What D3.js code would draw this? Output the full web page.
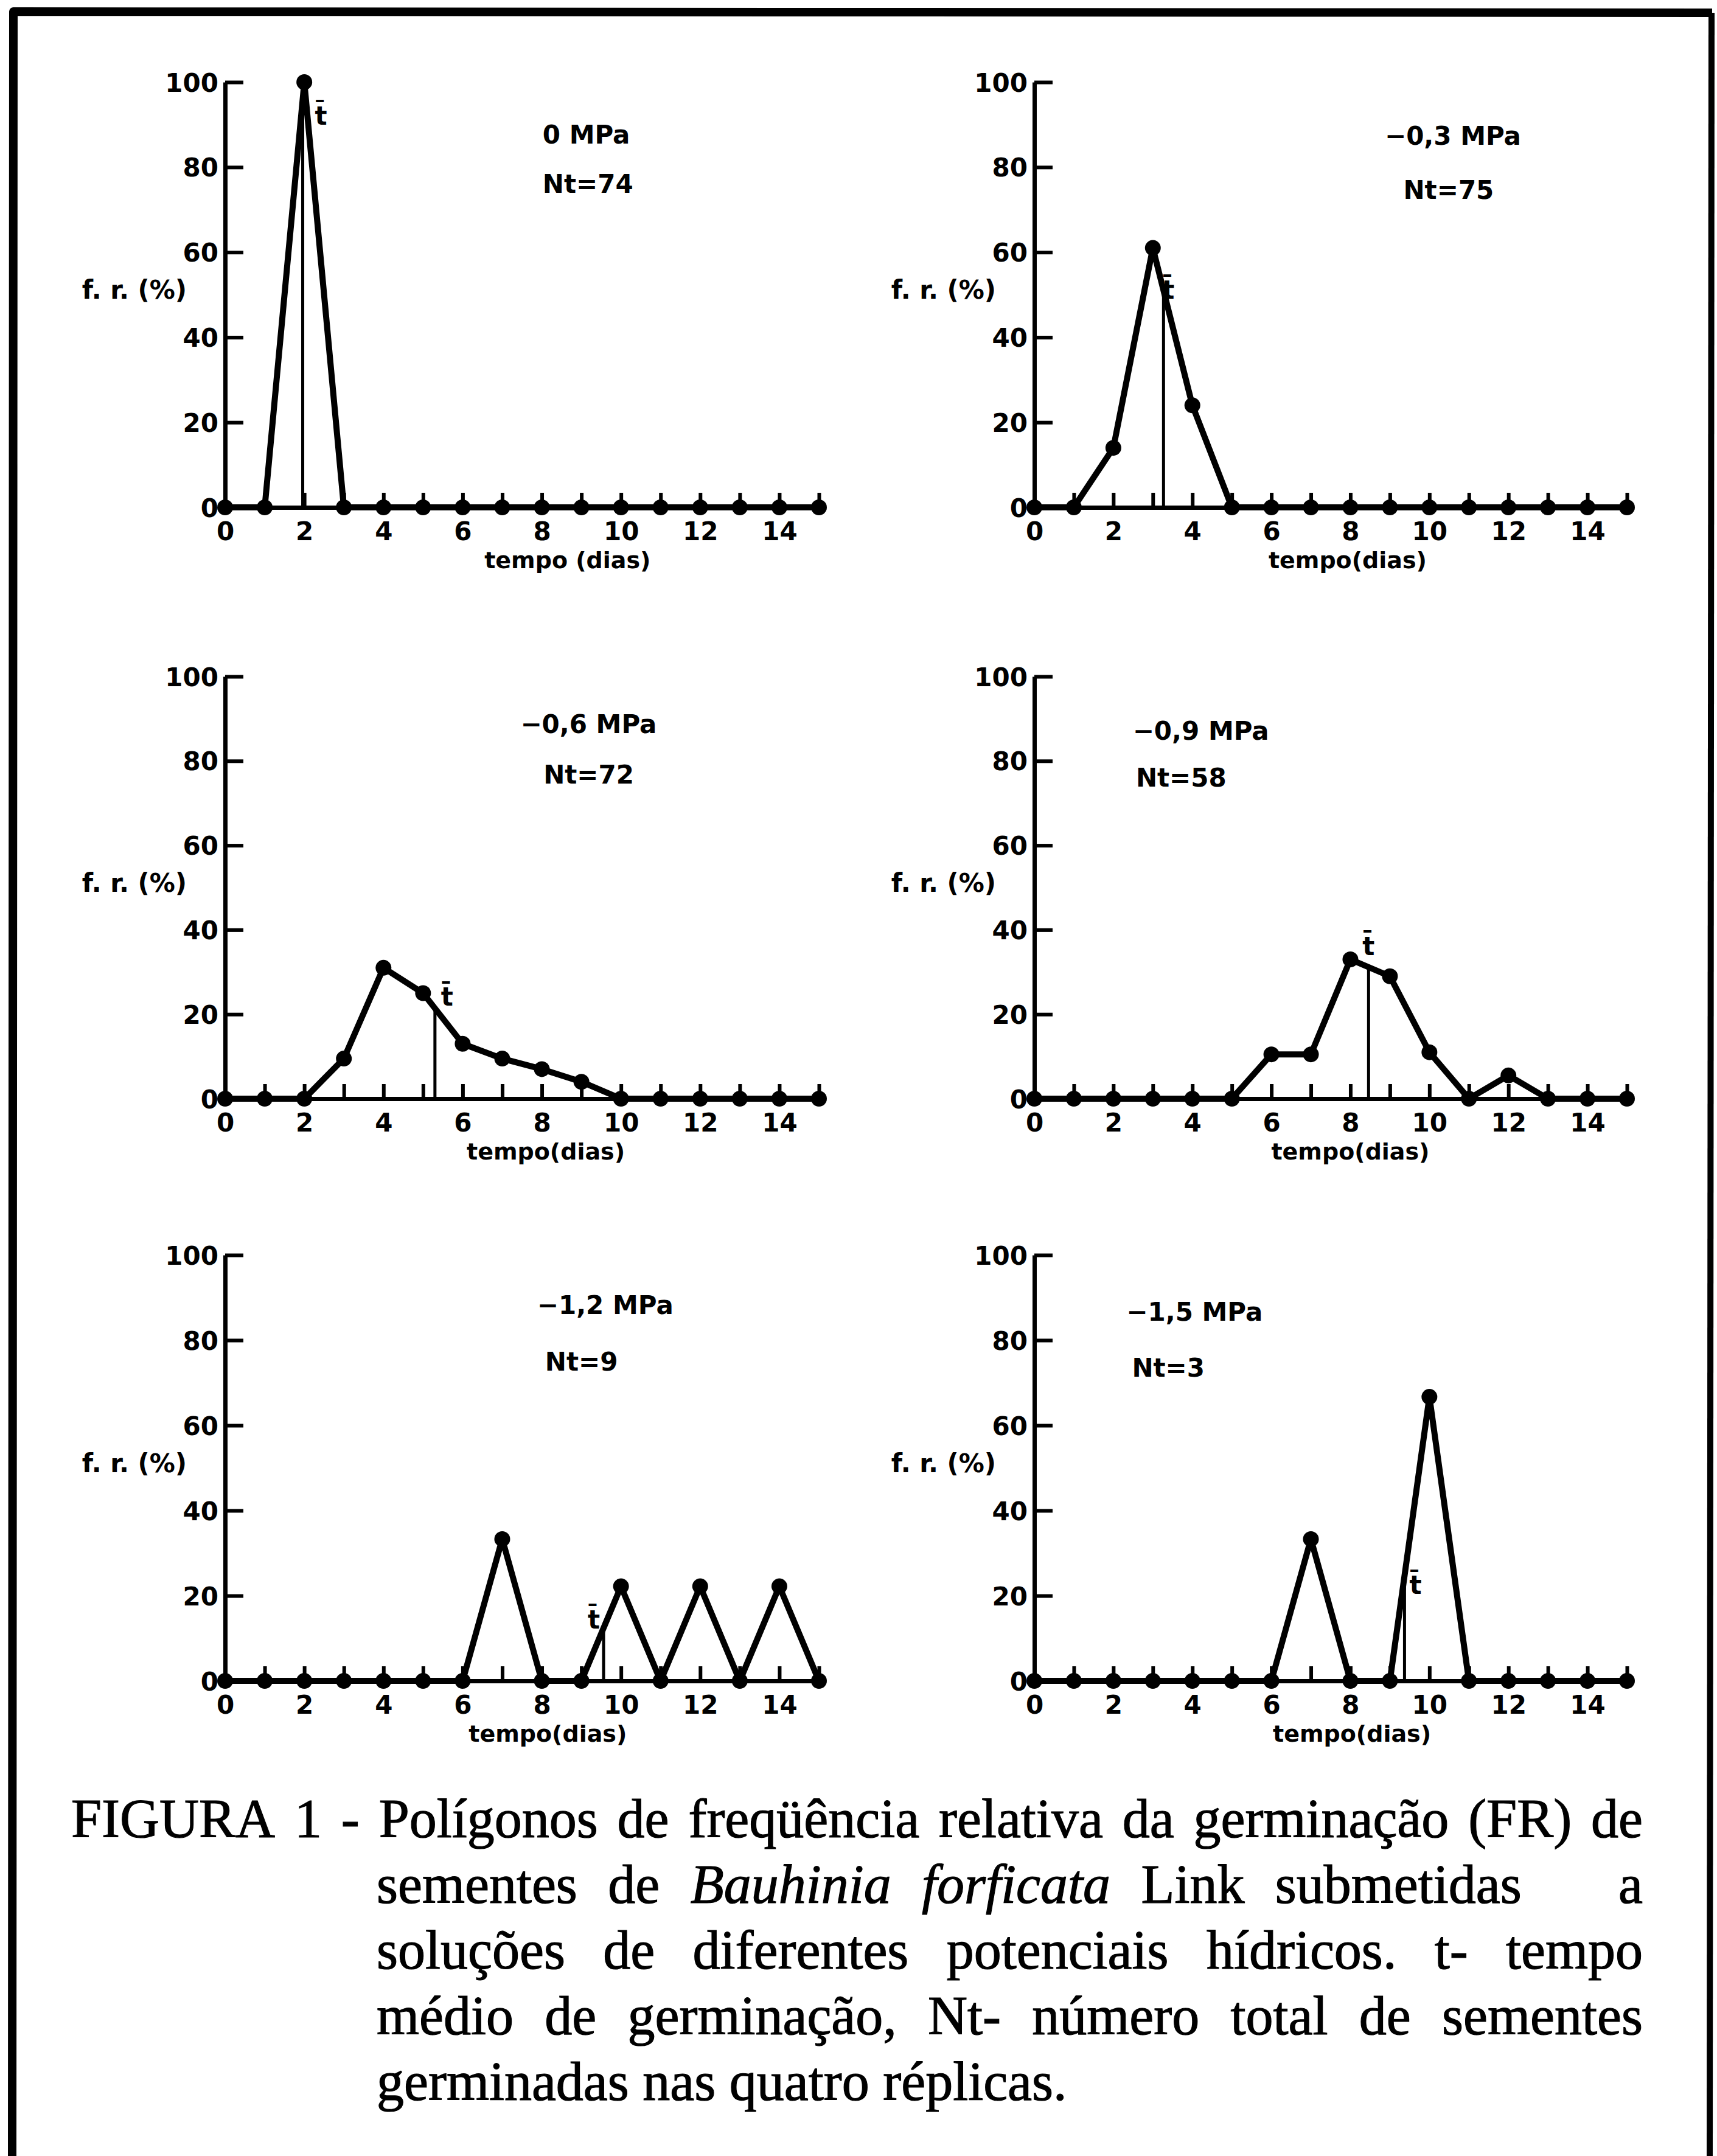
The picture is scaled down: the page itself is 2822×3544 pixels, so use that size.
<!DOCTYPE html>
<html><head><meta charset="utf-8">
<script src="https://cdn.jsdelivr.net/npm/d3@7"></script>
<style>html,body{margin:0;padding:0;background:#fff}svg{display:block}</style>
</head><body>
<script>
// ---------------- DATA ----------------
const days = [0,1,2,3,4,5,6,7,8,9,10,11,12,13,14,15];
const xTickLabels = [0,2,4,6,8,10,12,14];
const yTicks = [0,20,40,60,80,100];
const potentials = ["0 MPa","\u22120,3 MPa","\u22120,6 MPa","\u22120,9 MPa","\u22121,2 MPa","\u22121,5 MPa"];
const ntLabels = ["Nt=74","Nt=75","Nt=72","Nt=58","Nt=9","Nt=3"];
const fr0   = [0,0,100,0,0,0,0,0,0,0,0,0,0,0,0,0];
const fr03  = [0,0,14,61,24,0,0,0,0,0,0,0,0,0,0,0];
const fr06  = [0,0,0,9.5,31,25,13,9.5,7,4,0,0,0,0,0,0];
const fr09  = [0,0,0,0,0,0,10.5,10.5,33,29,11,0,5.5,0,0,0];
const fr12  = [0,0,0,0,0,0,0,33.3,0,0,22.2,0,22.2,0,22.2,0];
const fr15  = [0,0,0,0,0,0,0,33.3,0,0,66.7,0,0,0,0,0];
const series = [fr0, fr03, fr06, fr09, fr12, fr15];
const tMean = [1.96, 3.27, 5.3, 8.46, 9.56, 9.37];
const yLabel = "f. r. (%)";
const xLabels = ["tempo (dias)","tempo(dias)","tempo(dias)","tempo(dias)","tempo(dias)","tempo(dias)"];
const captionLines = [
  {indent:false, mode:"justify", segs:[["FIGURA 1 - Polígonos de freqüência relativa da germinação (FR) de",false]]},
  {indent:true, mode:"lastRight", segs:[["sementes de",false],["Bauhinia forficata",true],["Link submetidas a",false]]},
  {indent:true, mode:"justify", segs:[["soluções de diferentes potenciais hídricos. t- tempo",false]]},
  {indent:true, mode:"justify", segs:[["médio de germinação, Nt- número total de sementes",false]]},
  {indent:true, mode:"natural", segs:[["germinadas nas quatro réplicas.",false]]}
];

// ---------------- LAYOUT / STYLE ----------------
const W = 2822, H = 3544;
const cols = [{x0:370, x1:1346}, {x0:1700, x1:2674}];
const rows = [{top:135, bot:834}, {top:1112, bot:1806}, {top:2063, bot:2763}];
// annotation anchors in data units (day, %)
const annot = [
  {mx:8.02, my:85.5, nx:8.02, ny:74.0, tx:8.65, lab:{dx:20, v:90, anchor:"start"}},
  {mx:8.87, my:85.2, nx:9.34, ny:72.5, tx:7.93, lab:{dx:-2, v:49, anchor:"start"}},
  {mx:7.46, my:86.6, nx:8.04, ny:74.6, tx:8.1,  lab:{dx:10, v:22, anchor:"start"}},
  {mx:2.49, my:85.0, nx:2.57, ny:73.9, tx:8.0,  lab:{dx:0,  v:34, anchor:"middle"}},
  {mx:7.88, my:86.1, nx:8.08, ny:72.9, tx:8.15, lab:{dx:-6, v:12.3, anchor:"end"}},
  {mx:2.33, my:84.6, nx:2.47, ny:71.5, tx:8.04, lab:{dx:8,  v:20.4, anchor:"start"}}
];
const sansFont = "'DejaVu Sans', Verdana, sans-serif";
const serifFont = "'Liberation Serif', 'Times New Roman', serif";

const svg = d3.select("body").append("svg").attr("width", W).attr("height", H)
  .attr("viewBox", `0 0 ${W} ${H}`);
svg.append("rect").attr("width", W).attr("height", H).attr("fill", "#fff");

// frame (open at bottom)
const frame = svg.append("g").attr("stroke", "#000").attr("fill", "none");
frame.append("path").attr("d", "M20,3544 L22,19 L2814,21").attr("stroke-width", 14).attr("stroke-linejoin","round");
frame.append("line").attr("x1", 2813).attr("y1", 21).attr("x2", 2810).attr("y2", 3544).attr("stroke-width", 10);

series.forEach((vals, i) => {
  const c = cols[i % 2], r = rows[Math.floor(i / 2)];
  const x = d3.scaleLinear().domain([0, 15]).range([c.x0, c.x1]);
  const y = d3.scaleLinear().domain([0, 100]).range([r.bot, r.top]);
  const g = svg.append("g");
  const a = annot[i];

  // y axis
  const ya = g.append("g").attr("transform", `translate(${c.x0},0)`)
    .call(d3.axisLeft(y).tickValues(yTicks).tickSize(-30).tickSizeOuter(0).tickPadding(11));
  ya.select(".domain").attr("stroke-width", 7);
  ya.selectAll(".tick line").attr("stroke-width", 6);
  ya.selectAll(".tick text").attr("font-family", sansFont).attr("font-weight", "bold")
    .attr("font-size", 42).attr("fill", "#000").attr("dy", "0.36em");

  // x axis
  const xa = g.append("g").attr("transform", `translate(0,${r.bot})`)
    .call(d3.axisBottom(x).tickValues(days).tickSize(-24).tickSizeOuter(0).tickPadding(24)
      .tickFormat(d => xTickLabels.includes(d) ? d : ""));
  xa.select(".domain").attr("stroke-width", 7);
  xa.selectAll(".tick line").attr("stroke-width", 6);
  xa.selectAll(".tick text").attr("font-family", sansFont).attr("font-weight", "bold")
    .attr("font-size", 42).attr("fill", "#000");
  xa.selectAll(".tick").filter(d => d === 0).select("line").remove();

  // axis titles
  g.append("text").attr("x", x(a.tx)).attr("y", r.bot + 100).attr("text-anchor", "middle")
    .attr("font-family", sansFont).attr("font-weight", "bold").attr("font-size", 38)
    .text(xLabels[i]);
  g.append("text").attr("x", c.x0 - 63).attr("y", y(49)).attr("text-anchor", "end")
    .attr("font-family", sansFont).attr("font-weight", "bold").attr("font-size", 42)
    .text(yLabel);

  // panel annotations
  g.append("text").attr("x", x(a.mx)).attr("y", y(a.my))
    .attr("font-family", sansFont).attr("font-weight", "bold").attr("font-size", 42)
    .text(potentials[i]);
  g.append("text").attr("x", x(a.nx)).attr("y", y(a.ny))
    .attr("font-family", sansFont).attr("font-weight", "bold").attr("font-size", 42)
    .text(ntLabels[i]);

  // mean time line
  const tm = tMean[i];
  const k = Math.floor(tm);
  const vAt = vals[k] + (vals[k + 1] - vals[k]) * (tm - k);
  g.append("line").attr("x1", x(tm)).attr("x2", x(tm)).attr("y1", y(0)).attr("y2", y(vAt))
    .attr("stroke", "#000").attr("stroke-width", 5);
  g.append("text").attr("x", x(tm) + a.lab.dx).attr("y", y(a.lab.v)).attr("text-anchor", a.lab.anchor)
    .attr("font-family", sansFont).attr("font-weight", "bold").attr("font-size", 42)
    .text("t\u0304");

  // polygon
  const pts = days.map((d, j) => ({day: d, v: vals[j]}));
  g.append("path").datum(pts)
    .attr("d", d3.line().x(d => x(d.day)).y(d => y(d.v)))
    .attr("fill", "none").attr("stroke", "#000").attr("stroke-width", 10)
    .attr("stroke-linejoin", "round").attr("stroke-linecap", "round");
  g.selectAll("circle.pt").data(pts).join("circle").attr("class", "pt")
    .attr("cx", d => x(d.day)).attr("cy", d => y(d.v)).attr("r", 13).attr("fill", "#000");
});

// caption
const capLeft = 117, capIndent = 619, capRight = 2700, capBase0 = 3020, capStep = 108, capSize = 90;
const cap = svg.append("g").attr("font-family", serifFont).attr("font-size", capSize)
  .attr("fill", "#000").attr("stroke", "#000").attr("stroke-width", 1.2);
captionLines.forEach((ln, li) => {
  const words = [];
  ln.segs.forEach(([txt, it]) => txt.split(/\s+/).filter(w => w).forEach(w => words.push({w, it})));
  const yb = capBase0 + li * capStep;
  const xs = ln.indent ? capIndent : capLeft;
  const els = words.map(o => cap.append("text").attr("y", yb)
    .attr("font-style", o.it ? "italic" : "normal").text(o.w));
  const widths = els.map(e => e.node().getComputedTextLength());
  const total = d3.sum(widths);
  let cx = xs;
  if (ln.mode === "justify") {
    const gap = (capRight - xs - total) / (words.length - 1);
    els.forEach((e, j) => { e.attr("x", cx); cx += widths[j] + gap; });
  } else if (ln.mode === "lastRight") {
    const gap = capSize * 0.56;
    els.forEach((e, j) => {
      if (j === els.length - 1) { e.attr("x", capRight).attr("text-anchor", "end"); }
      else { e.attr("x", cx); cx += widths[j] + gap; }
    });
  } else {
    const gap = capSize * 0.25;
    els.forEach((e, j) => { e.attr("x", cx); cx += widths[j] + gap; });
  }
});
</script>
</body></html>
